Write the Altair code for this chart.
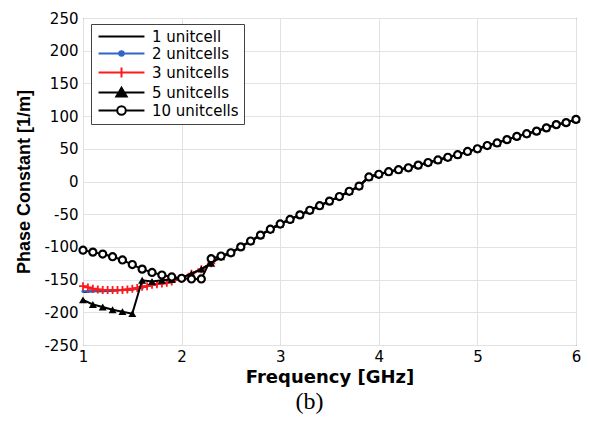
import altair as alt
import pandas as pd

names = ["1 unitcell", "2 unitcells", "3 unitcells", "5 unitcells", "10 unitcells"]

# shared hidden tail (2.5 .. 6.0 GHz) where all curves coincide
freq_tail = [2.5, 2.6, 2.7, 2.8, 2.9, 3.0, 3.1, 3.2, 3.3, 3.4, 3.5, 3.6, 3.7, 3.8, 3.9,
             4.0, 4.1, 4.2, 4.3, 4.4, 4.5, 4.6, 4.7, 4.8, 4.9, 5.0, 5.1, 5.2, 5.3, 5.4,
             5.5, 5.6, 5.7, 5.8, 5.9, 6.0]
beta_tail = [-109, -100, -91, -82, -73, -65, -58, -51, -44, -37, -30, -23, -15, -7, 7,
             11, 15, 18, 21, 25, 29, 33, 37, 41, 46, 50, 55, 59, 64, 69,
             73, 77, 82, 87, 90, 95]

freq_coarse = [1.0, 1.1, 1.2, 1.3, 1.4, 1.5, 1.6, 1.7, 1.8, 1.9, 2.0, 2.1, 2.2, 2.3, 2.4]
freq_fine = [1.0, 1.05, 1.1, 1.15, 1.2, 1.25, 1.3, 1.35, 1.4, 1.45, 1.5, 1.55, 1.6, 1.65,
             1.7, 1.75, 1.8, 1.85, 1.9, 2.0, 2.1, 2.2, 2.3, 2.4]

beta_1 = [-169, -168, -168, -167, -166, -165, -162, -158, -156, -153, -148, -141, -134, -125, -115]
beta_2 = [-168, -168, -168, -167, -167, -167, -167, -166, -166, -166, -165, -164, -162, -160,
          -158, -157, -156, -155, -153, -148, -141, -134, -125, -115]
beta_3 = [-160, -162, -164, -165, -166, -166, -166, -166, -166, -165, -164, -163, -161, -160,
          -158, -157, -156, -155, -153, -148, -141, -134, -125, -115]
beta_5 = [-181, -188, -192, -196, -199, -202, -151, -153, -151, -150, -147, -141, -134, -125, -115]
beta_10 = [-105, -108, -111, -115, -120, -127, -134, -139, -143, -146, -148, -149, -149, -118, -114]

rows = []
def add(name, fs, bs):
    for f, b in zip(fs + freq_tail, bs + beta_tail):
        rows.append({"series": name, "f": f, "beta": b})

add(names[0], freq_coarse, beta_1)
add(names[1], freq_fine, beta_2)
add(names[2], freq_fine, beta_3)
add(names[3], freq_coarse, beta_5)
add(names[4], freq_coarse, beta_10)
df = pd.DataFrame(rows)

x_tick_values = [1, 2, 3, 4, 5, 6]
y_tick_values = [-250, -200, -150, -100, -50, 0, 50, 100, 150, 200, 250]

X = alt.X("f:Q", scale=alt.Scale(domain=[1, 6], nice=False, zero=False),
          axis=alt.Axis(values=x_tick_values, title="Frequency [GHz]", labelExpr="'' + datum.value",
                        titleFont="DejaVu Sans", titleFontSize=18, titleFontWeight="bold",
                        titlePadding=4, labelPadding=4, labelFlush=False))
Y = alt.Y("beta:Q", scale=alt.Scale(domain=[-250, 250], nice=False, zero=False),
          axis=alt.Axis(values=y_tick_values, title="Phase Constant [1/m]", labelExpr="'' + datum.value",
                        titleFont="Liberation Sans", titleFontSize=18, titleFontWeight="bold",
                        titlePadding=10, labelPadding=5, labelFlush=False))

base = alt.Chart(df).encode(x=X, y=Y, order="f:Q")

def sel(name):
    return base.transform_filter(alt.datum.series == name)

blue = "#2f66c8"
red = "#ff1a1a"
plus_path = "M-1,0L1,0M0,-1L0,1"

layers = [
    sel(names[0]).mark_line(color="black", strokeWidth=2),
    sel(names[1]).mark_line(color=blue, strokeWidth=2),
    sel(names[1]).mark_point(shape="circle", filled=True, color=blue, size=10, opacity=1),
    sel(names[2]).mark_line(color=red, strokeWidth=2),
    sel(names[2]).mark_point(shape=plus_path, filled=False, color=red, size=64, strokeWidth=1.8, opacity=1),
    sel(names[3]).mark_line(color="black", strokeWidth=2),
    sel(names[3]).mark_point(shape="triangle-up", filled=True, color="black", size=64, opacity=1),
    sel(names[4]).mark_line(color="black", strokeWidth=2),
    sel(names[4]).mark_point(shape="circle", filled=True, fill="white", stroke="black",
                             strokeWidth=2.2, size=50, opacity=1),
]

# legend symbols: a line with the marker in the middle
leg_paths = [
    "M-5.1,0L5.1,0",
    "M-5.1,0L5.1,0M0.5,0A0.5,0.5 0 1,1 -0.5,0A0.5,0.5 0 1,1 0.5,0Z",
    "M-5.1,0L5.1,0M0,-1.1L0,1.1",
    "M-5.1,0L5.1,0M0,-1.05L1.15,0.9L-1.15,0.9Z",
    "M-5.1,0L-0.95,0M0.95,0L5.1,0M0.95,0A0.95,0.95 0 1,1 -0.95,0A0.95,0.95 0 1,1 0.95,0Z",
]
leg_fill = ["transparent", blue, "transparent", "black", "white"]
leg_stroke = ["black", blue, red, "black", "black"]

leg = alt.Legend(title=None, orient="none", legendX=8, legendY=6)
legend_layer = alt.Chart(df).transform_filter("datum.beta > 1000").mark_point(
    filled=True, strokeWidth=2, opacity=1
).encode(
    shape=alt.Shape("series:N", scale=alt.Scale(domain=names, range=leg_paths), legend=leg),
    fill=alt.Fill("series:N", scale=alt.Scale(domain=names, range=leg_fill), legend=leg),
    stroke=alt.Stroke("series:N", scale=alt.Scale(domain=names, range=leg_stroke), legend=leg),
)

chart = alt.layer(*layers, legend_layer).properties(
    width=493,
    height=327,
    background="white",
    autosize=alt.AutoSizeParams(type="none"),
    padding={"left": 75, "top": 10, "right": 5, "bottom": 70},
    title=alt.Title("(b)", orient="bottom", font="Liberation Serif", fontSize=24,
                    fontWeight="normal", color="black", offset=4, dx=-20, anchor="middle"),
).configure_view(
    stroke="#222222", strokeWidth=1
).configure_axis(
    domain=False, ticks=False, grid=True, gridColor="#e2e2e2", gridWidth=1,
    labelFont="DejaVu Sans", labelFontSize=15, labelColor="black", titleColor="black"
).configure_legend(
    padding=5, strokeColor="#444444", fillColor="white", cornerRadius=0,
    labelFont="DejaVu Sans", labelFontSize=15, labelColor="black", labelLimit=300,
    symbolSize=81, symbolStrokeWidth=2, symbolOffset=18, labelOffset=23, rowPadding=1,
    symbolFillColor="transparent", symbolStrokeColor="black"
)

chart.save("out.html", embed_options={"renderer": "svg", "actions": False})
